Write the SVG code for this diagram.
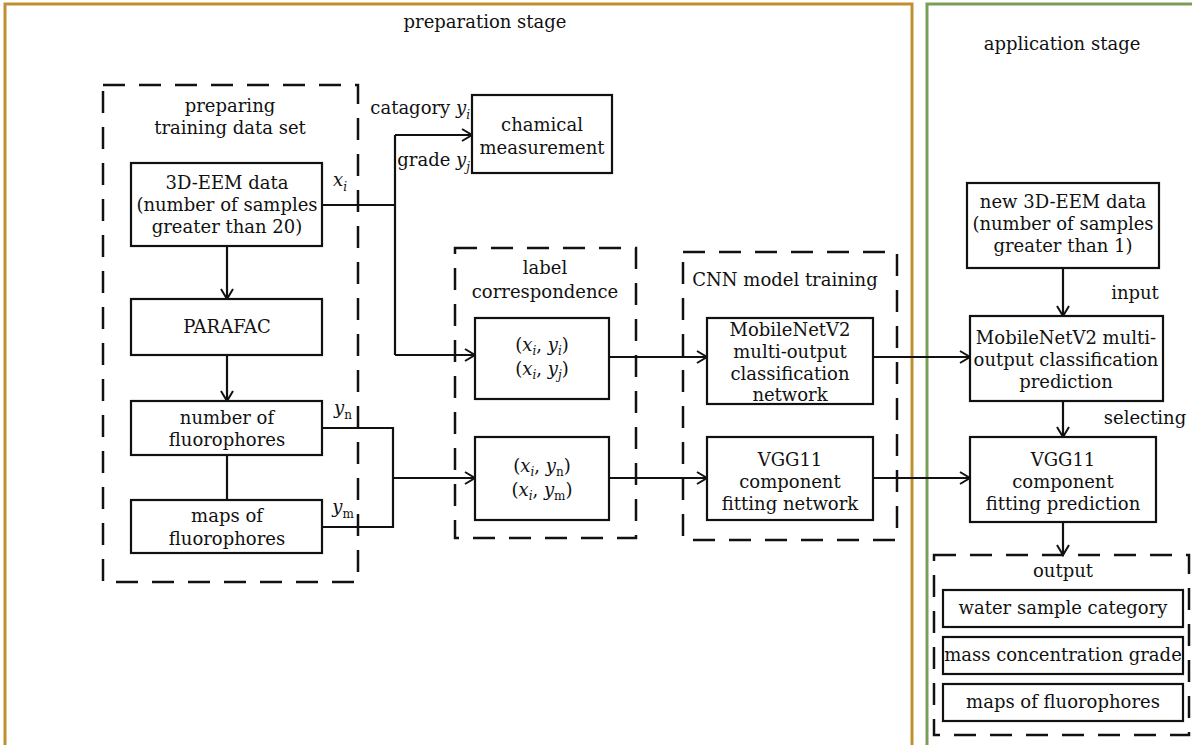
<svg xmlns="http://www.w3.org/2000/svg" width="1192" height="745" viewBox="0 0 1192 745">
<style>
text{font-family:"DejaVu Serif","Liberation Serif",serif;font-size:18px;fill:#111;text-anchor:middle}
.m{font-style:italic}
.s{font-size:12px}
.box{fill:#fff;stroke:#111;stroke-width:2.2}
.dash{fill:none;stroke:#111;stroke-width:2.5;stroke-dasharray:22 14}
.ln{fill:none;stroke:#111;stroke-width:2.2}
</style>
<defs>
<marker id="ar" markerWidth="14" markerHeight="14" refX="12" refY="7" orient="auto" markerUnits="userSpaceOnUse">
<path d="M2,1 L12,7 L2,13" fill="none" stroke="#111" stroke-width="2"/>
</marker>
</defs>
<rect width="1192" height="745" fill="#fff"/>
<g id="stage-prep">
<rect x="5" y="4" width="907" height="745" fill="none" stroke="#C0902F" stroke-width="3"/>
<text x="485" y="28">preparation stage</text>
</g>
<g id="stage-app">
<rect x="927" y="4" width="270" height="745" fill="none" stroke="#7A9E5A" stroke-width="3"/>
<text x="1062" y="50">application stage</text>
</g>
<g id="group-prep">
<rect class="dash" x="103" y="85" width="255" height="497"/>
<text x="230" y="112">preparing</text>
<text x="230" y="134">training data set</text>
</g>
<g id="group-label">
<rect class="dash" x="455" y="248" width="181" height="290"/>
<text x="545" y="274">label</text>
<text x="545" y="298">correspondence</text>
</g>
<g id="group-cnn">
<rect class="dash" x="683" y="252" width="214" height="288"/>
<text x="785" y="286">CNN model training</text>
</g>
<g id="group-output">
<rect class="dash" x="934" y="555" width="255" height="180"/>
<text x="1063" y="577">output</text>
</g>
<g id="connectors">
<path class="ln" d="M227,246 V299" marker-end="url(#ar)"/>
<path class="ln" d="M227,355 V401" marker-end="url(#ar)"/>
<path class="ln" d="M227,455 V500"/>
<path class="ln" d="M322,205 H395"/>
<path class="ln" d="M395,135 V355"/>
<path class="ln" d="M395,135 H472" marker-end="url(#ar)"/>
<path class="ln" d="M395,355 H475" marker-end="url(#ar)"/>
<path class="ln" d="M322,428 H393 V527 H322"/>
<path class="ln" d="M393,478 H475" marker-end="url(#ar)"/>
<path class="ln" d="M609,357 H707" marker-end="url(#ar)"/>
<path class="ln" d="M609,478 H707" marker-end="url(#ar)"/>
<path class="ln" d="M873,357 H970" marker-end="url(#ar)"/>
<path class="ln" d="M873,478 H970" marker-end="url(#ar)"/>
<path class="ln" d="M1063,268 V316" marker-end="url(#ar)"/>
<path class="ln" d="M1063,401 V437" marker-end="url(#ar)"/>
<path class="ln" d="M1063,522 V555" marker-end="url(#ar)"/>
<text x="340" y="186" class="m">x<tspan class="s" dy="5">i</tspan></text>
<text x="470" y="114" style="text-anchor:end">catagory <tspan class="m">y</tspan><tspan class="s m" dy="5">i</tspan></text>
<text x="470" y="166" style="text-anchor:end">grade <tspan class="m">y</tspan><tspan class="s m" dy="5">j</tspan></text>
<text x="343" y="414" class="m">y<tspan class="s" style="font-style:normal" dy="5">n</tspan></text>
<text x="343" y="513" class="m">y<tspan class="s" style="font-style:normal" dy="5">m</tspan></text>
<text x="1135" y="299">input</text>
<text x="1145" y="424">selecting</text>
</g>
<g id="eem">
<rect class="box" x="131" y="163" width="191" height="83"/>
<text x="227" y="189">3D-EEM data</text>
<text x="227" y="211">(number of samples</text>
<text x="227" y="233">greater than 20)</text>
</g>
<g id="chem">
<rect class="box" x="472" y="95" width="140" height="78"/>
<text x="542" y="131">chamical</text>
<text x="542" y="154">measurement</text>
</g>
<g id="parafac">
<rect class="box" x="131" y="299" width="191" height="56"/>
<text x="227" y="333">PARAFAC</text>
</g>
<g id="numfluor">
<rect class="box" x="131" y="401" width="191" height="54"/>
<text x="227" y="424">number of</text>
<text x="227" y="446">fluorophores</text>
</g>
<g id="mapsfluor">
<rect class="box" x="131" y="500" width="191" height="53"/>
<text x="227" y="522">maps of</text>
<text x="227" y="545">fluorophores</text>
</g>
<g id="pair1">
<rect class="box" x="475" y="318" width="134" height="81"/>
<text x="542" y="351">(<tspan class="m">x</tspan><tspan class="s m" dy="4">i</tspan><tspan dy="-4">, </tspan><tspan class="m">y</tspan><tspan class="s m" dy="4">i</tspan><tspan dy="-4">)</tspan></text>
<text x="542" y="375">(<tspan class="m">x</tspan><tspan class="s m" dy="4">i</tspan><tspan dy="-4">, </tspan><tspan class="m">y</tspan><tspan class="s m" dy="4">j</tspan><tspan dy="-4">)</tspan></text>
</g>
<g id="pair2">
<rect class="box" x="475" y="437" width="134" height="83"/>
<text x="542" y="472">(<tspan class="m">x</tspan><tspan class="s m" dy="4">i</tspan><tspan dy="-4">, </tspan><tspan class="m">y</tspan><tspan class="s" dy="4">n</tspan><tspan dy="-4">)</tspan></text>
<text x="542" y="496">(<tspan class="m">x</tspan><tspan class="s m" dy="4">i</tspan><tspan dy="-4">, </tspan><tspan class="m">y</tspan><tspan class="s" dy="4">m</tspan><tspan dy="-4">)</tspan></text>
</g>
<g id="mobilenet">
<rect class="box" x="707" y="318" width="166" height="86"/>
<text x="790" y="336">MobileNetV2</text>
<text x="790" y="358">multi-output</text>
<text x="790" y="380">classification</text>
<text x="790" y="401">network</text>
</g>
<g id="vgg">
<rect class="box" x="707" y="437" width="166" height="83"/>
<text x="790" y="466">VGG11</text>
<text x="790" y="488">component</text>
<text x="790" y="510">fitting network</text>
</g>
<g id="neweem">
<rect class="box" x="967" y="183" width="192" height="85"/>
<text x="1063" y="208">new 3D-EEM data</text>
<text x="1063" y="230">(number of samples</text>
<text x="1063" y="252">greater than 1)</text>
</g>
<g id="mobilepred">
<rect class="box" x="970" y="316" width="193" height="85"/>
<text x="1066" y="344">MobileNetV2 multi-</text>
<text x="1066" y="366">output classification</text>
<text x="1066" y="388">prediction</text>
</g>
<g id="vggpred">
<rect class="box" x="970" y="437" width="186" height="85"/>
<text x="1063" y="466">VGG11</text>
<text x="1063" y="488">component</text>
<text x="1063" y="510">fitting prediction</text>
</g>
<g id="out1">
<rect class="box" x="943" y="590" width="240" height="37"/>
<text x="1063" y="614">water sample category</text>
</g>
<g id="out2">
<rect class="box" x="943" y="637" width="240" height="37"/>
<text x="1063" y="661">mass concentration grade</text>
</g>
<g id="out3">
<rect class="box" x="943" y="684" width="240" height="37"/>
<text x="1063" y="708">maps of fluorophores</text>
</g>
</svg>
